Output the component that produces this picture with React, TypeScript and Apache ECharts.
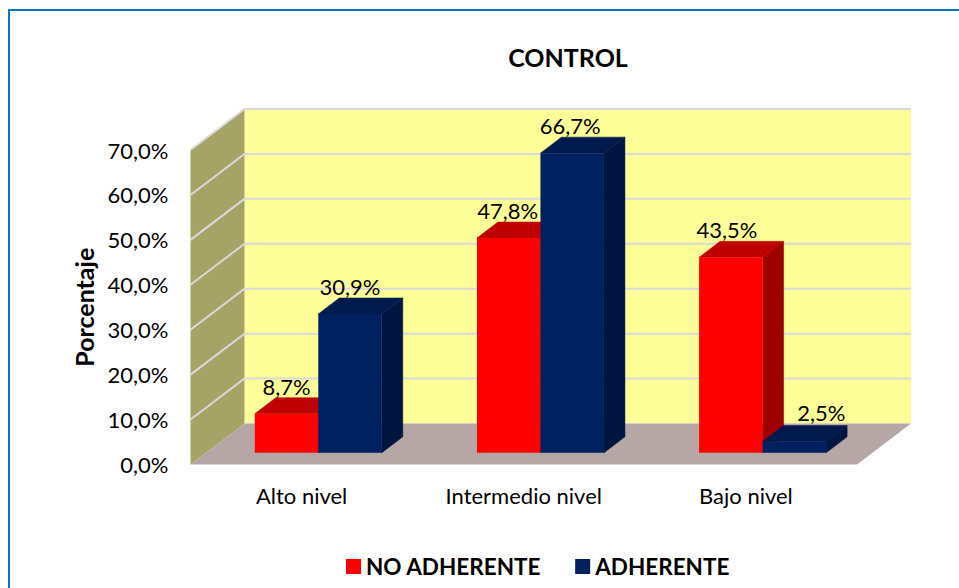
import React, { useEffect, useRef } from "react";
import * as echarts from "echarts";

const categories = ["Alto nivel", "Intermedio nivel", "Bajo nivel"];
const noAdherente = [8.7, 47.8, 43.5];
const adherente = [30.9, 66.7, 2.5];
const yTicks = [0, 10, 20, 30, 40, 50, 60, 70];
const labelNudgeRed = [[0, 0], [-1, 0], [-4, 0]];
const labelNudgeBlue = [[0, 0], [-2, 0], [27, -2]];

const FONT = "Lato";
const GRID = { left: 190.5, top: 150, width: 666.5, height: 314.5 };
const WALL_DX = 54;
const WALL_DY = -41;
const BAR_W = 63.5;
const BAR_DX = 21;
const BAR_DY = -16;
const BAR_SHIFT_X = 16.7;
const BAR_SHIFT_Y = -11.7;
const LABEL_SIZE = 22;

const fmt = (v: number) => v.toFixed(1).replace(".", ",") + "%";

function poly(points: number[][], fill: string, extra: any = {}) {
  return { type: "polygon", shape: { points }, style: { fill, ...extra } };
}

function barSeries(
  name: string,
  values: number[],
  slot: number,
  nudges: number[][],
  colors: { front: string; top: string; side: string }
) {
  return {
    name,
    type: "custom",
    z: 5,
    clip: false,
    itemStyle: { color: colors.front },
    encode: { x: 0, y: 1 },
    data: values.map((v, i) => [i, v]),
    renderItem: (_p: any, api: any) => {
      const i = api.value(0);
      const v = api.value(1);
      const top = api.coord([i, v]);
      const base = api.coord([i, 0]);
      const xL = top[0] + BAR_SHIFT_X + (slot - 1) * BAR_W;
      const xR = xL + BAR_W;
      const yT = top[1] + BAR_SHIFT_Y;
      const yB = base[1] + BAR_SHIFT_Y;
      const n = nudges[i];
      return {
        type: "group",
        children: [
          poly([[xR, yT], [xR + BAR_DX, yT + BAR_DY], [xR + BAR_DX, yB + BAR_DY], [xR, yB]], colors.side, { stroke: colors.side, lineWidth: 0.5 }),
          poly([[xL, yT], [xL + BAR_DX, yT + BAR_DY], [xR + BAR_DX, yT + BAR_DY], [xR, yT]], colors.top, { stroke: colors.top, lineWidth: 0.5 }),
          poly([[xL, yT], [xR, yT], [xR, yB], [xL, yB]], colors.front),
          {
            type: "text",
            z2: 50,
            style: {
              text: fmt(v),
              x: (xL + xR) / 2 + n[0],
              y: yT - 27.5 + n[1],
              align: "center",
              verticalAlign: "middle",
              fill: "#000",
              fontSize: LABEL_SIZE,
              fontFamily: FONT,
            },
          },
        ],
      };
    },
  };
}

const wallSeries = {
  name: "walls",
  type: "custom",
  z: 1,
  clip: false,
  silent: true,
  encode: { x: 0, y: 1 },
  data: yTicks.map((t) => [0, t]),
  renderItem: (params: any, api: any) => {
    const cs = params.coordSys;
    const x0 = cs.x;
    const x1 = cs.x + cs.width;
    const yB = cs.y + cs.height;
    const yT = cs.y;
    const t = api.value(1);
    const y = api.coord([0, t])[1];
    const line = {
      stroke: "#D9D9D9",
      lineWidth: 2,
      fill: "none",
    };
    const children: any[] = [];
    if (params.dataIndex === 0) {
      children.push(
        poly([[x0 + WALL_DX, yT + WALL_DY], [x1 + WALL_DX, yT + WALL_DY], [x1 + WALL_DX, yB + WALL_DY], [x0 + WALL_DX, yB + WALL_DY]], "#FFFF99"),
        poly([[x0, yT], [x0 + WALL_DX, yT + WALL_DY], [x0 + WALL_DX, yB + WALL_DY], [x0, yB]], "#A6A366"),
        poly([[x0, yB], [x0 + WALL_DX, yB + WALL_DY], [x1 + WALL_DX, yB + WALL_DY], [x1, yB]], "#B6A6A6")
      );
    } else {
      children.push({
        type: "polyline",
        shape: { points: [[x0, y], [x0 + WALL_DX, y + WALL_DY], [x1 + WALL_DX, y + WALL_DY]] },
        style: line,
      });
    }
    return { type: "group", children };
  },
};

export default function App() {
  const ref = useRef<HTMLDivElement>(null);
  useEffect(() => {
    const chart = echarts.init(ref.current!, null, { renderer: "svg" });
    chart.setOption({
      animation: false,
      backgroundColor: "#fff",
      textStyle: { fontFamily: FONT },
      title: {
        text: "CONTROL",
        left: 563,
        top: 52,
        textAlign: "center",
        textVerticalAlign: "middle",
        textStyle: { fontSize: 25, fontWeight: "bold", color: "#000", fontFamily: FONT },
      },
      grid: GRID,
      legend: {
        left: 341,
        top: 550,
        itemWidth: 15,
        itemHeight: 15,
        itemGap: 34,
        selectedMode: false,
        icon: "rect",
        textStyle: { fontSize: 22.5, fontWeight: "bold", color: "#000", fontFamily: FONT },
        data: [
          { name: "NO ADHERENTE", itemStyle: { color: "#FF0000" } },
          { name: "ADHERENTE", itemStyle: { color: "#002060" } },
        ],
      },
      xAxis: {
        type: "category",
        data: categories,
        axisLine: { show: false },
        axisTick: { show: false },
        axisLabel: { color: "#000", fontSize: LABEL_SIZE, margin: 20, fontFamily: FONT },
      },
      yAxis: {
        type: "value",
        min: 0,
        max: 70,
        interval: 10,
        name: "Porcentaje",
        nameLocation: "middle",
        nameGap: 93,
        nameTextStyle: { fontSize: 25, fontWeight: "bold", color: "#000", fontFamily: FONT },
        axisLine: { show: false },
        axisTick: { show: false },
        splitLine: { show: false },
        axisLabel: { color: "#000", fontSize: LABEL_SIZE, margin: 22, padding: [0, 0, 2, 0], fontFamily: FONT, formatter: (v: number) => fmt(v) },
      },
      graphic: [
        {
          type: "polyline",
          silent: true,
          shape: { points: [[9, 588], [9, 10], [959, 10]] },
          style: { stroke: "#0B76C8", lineWidth: 2, fill: "none" },
        },
      ],
      series: [
        wallSeries,
        barSeries("NO ADHERENTE", noAdherente, 0, labelNudgeRed, { front: "#FF0000", top: "#BF0000", side: "#A00000" }),
        barSeries("ADHERENTE", adherente, 1, labelNudgeBlue, { front: "#002060", top: "#001A4D", side: "#001540" }),
      ],
    });
    return () => chart.dispose();
  }, []);
  return <div ref={ref} style={{ position: "absolute", left: 0, top: 0, width: 959, height: 588 }} />;
}
